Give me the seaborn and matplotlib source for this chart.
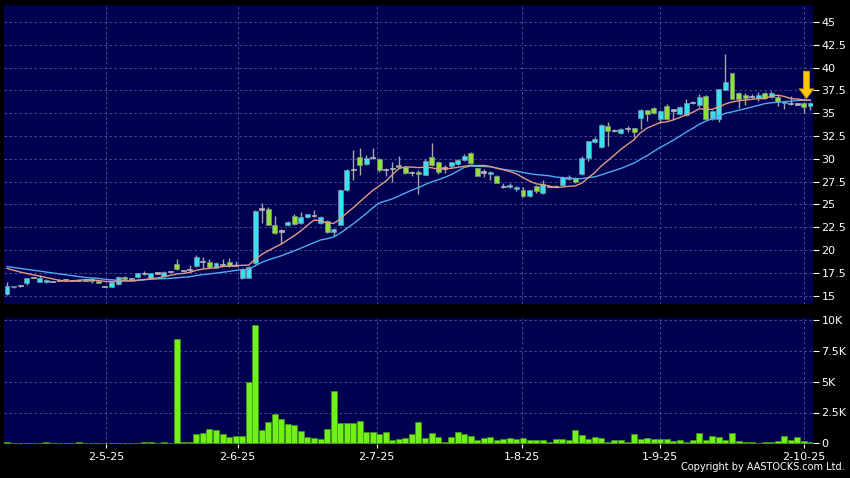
import numpy as np
import pandas as pd
import matplotlib
matplotlib.use("Agg")
import matplotlib.pyplot as plt
import seaborn as sns

# daily candles (price) and volume in thousands
opens = [15.2, 15.95, 16.1, 16.45, 17.0, 16.5, 16.5, 16.55, 16.7, 16.75,
         16.7, 16.65, 16.7, 16.8, 16.6, 16.0, 16.0, 16.3, 17.1, 16.9,
         17.05, 17.4, 17.0, 17.5, 17.15, 17.7, 18.45, 17.8, 17.9, 18.25,
         18.75, 18.65, 18.05, 18.4, 18.65, 18.35, 17.0, 17.0, 18.6, 24.5,
         24.5, 22.8, 22.1, 22.7, 23.75, 22.95, 23.6, 23.8, 23.0, 23.2,
         21.95, 22.8, 26.55, 28.85, 30.25, 29.45, 30.15, 29.95, 28.8, 28.9,
         29.3, 29.1, 28.5, 28.6, 28.25, 30.2, 29.65, 29.0, 29.25, 29.45,
         29.9, 30.65, 28.95, 28.55, 28.3, 28.1, 27.0, 26.9, 26.65, 26.6,
         25.9, 27.0, 26.3, 27.0, 27.0, 27.1, 28.05, 27.9, 28.3, 30.05,
         31.8, 31.3, 33.65, 33.1, 32.8, 33.3, 33.35, 34.45, 35.3, 35.55,
         34.35, 35.75, 35.35, 34.9, 34.8, 36.15, 35.85, 36.9, 34.4, 34.4,
         37.55, 39.4, 37.25, 37.0, 36.8, 36.7, 37.2, 36.8, 36.75, 36.1,
         36.1, 36.0, 36.1, 35.8]
highs = [16.5, 16.1, 16.2, 17.0, 17.1, 17.3, 16.8, 16.6, 16.8, 16.8,
         16.75, 16.7, 16.75, 16.9, 16.7, 16.05, 16.6, 17.2, 17.15, 17.0,
         17.5, 17.75, 17.55, 17.6, 17.7, 17.75, 19.0, 17.85, 18.4, 19.5,
         19.2, 19.0, 18.7, 19.0, 19.1, 18.8, 18.0, 18.3, 24.4, 25.2,
         24.7, 23.7, 22.3, 23.2, 24.0, 24.2, 24.0, 24.4, 23.7, 23.3,
         22.4, 26.7, 28.9, 31.0, 31.15, 30.4, 31.2, 30.1, 29.0, 29.7,
         30.3, 29.2, 28.7, 28.8, 30.0, 31.7, 29.8, 29.3, 29.7, 30.0,
         30.5, 30.8, 29.0, 28.9, 28.7, 28.2, 27.3, 27.4, 27.0, 26.9,
         26.6, 27.1, 27.7, 27.1, 27.1, 28.1, 28.2, 28.0, 30.3, 32.0,
         32.4, 33.8, 34.0, 33.3, 33.4, 33.6, 33.4, 35.5, 35.4, 35.7,
         35.3, 36.0, 35.5, 35.8, 36.6, 36.3, 37.1, 37.0, 35.3, 37.7,
         41.5, 39.45, 37.3, 37.2, 37.1, 37.3, 37.3, 37.4, 37.0, 36.3,
         36.9, 36.1, 36.2, 36.2]
lows = [15.1, 15.9, 16.0, 16.2, 16.9, 16.5, 16.4, 16.5, 16.6, 16.7,
        16.65, 16.6, 16.65, 16.4, 16.35, 15.95, 15.95, 16.2, 16.75, 16.85,
        17.0, 17.3, 16.9, 17.4, 17.1, 17.6, 17.85, 17.75, 17.6, 18.2,
        18.0, 18.0, 18.0, 18.3, 18.2, 18.3, 16.8, 16.95, 18.5, 23.0,
        22.7, 21.8, 20.7, 22.6, 22.8, 22.9, 23.5, 23.6, 22.9, 21.9,
        21.6, 22.7, 26.5, 27.7, 28.2, 29.3, 30.0, 28.6, 28.1, 27.5,
        29.0, 28.3, 28.1, 26.1, 28.2, 29.2, 28.3, 28.5, 29.0, 29.3,
        29.8, 29.4, 28.1, 28.0, 27.7, 27.3, 26.8, 26.8, 26.5, 25.8,
        25.8, 26.3, 26.2, 26.9, 26.9, 27.0, 27.7, 27.4, 28.2, 29.8,
        31.7, 31.2, 31.4, 32.9, 32.7, 32.9, 32.4, 33.3, 34.1, 34.9,
        33.9, 34.3, 34.2, 34.8, 34.7, 36.0, 35.7, 34.2, 34.3, 34.0,
        37.5, 36.5, 35.6, 35.9, 36.7, 36.3, 36.6, 36.7, 35.8, 35.5,
        35.9, 35.9, 35.0, 35.4]
closes = [16.1, 16.05, 16.1, 16.9, 17.0, 17.0, 16.7, 16.55, 16.7, 16.75,
          16.7, 16.65, 16.7, 16.6, 16.4, 16.0, 16.5, 17.1, 16.8, 16.9,
          17.45, 17.4, 17.5, 17.5, 17.6, 17.7, 17.9, 17.8, 17.9, 19.2,
          18.75, 18.1, 18.6, 18.4, 18.25, 18.35, 17.95, 18.1, 24.3, 24.5,
          22.8, 21.9, 22.1, 23.1, 22.85, 23.6, 23.95, 23.8, 23.6, 22.0,
          22.3, 26.6, 28.8, 28.85, 29.3, 30.05, 30.15, 28.8, 28.8, 28.9,
          29.15, 28.45, 28.5, 28.3, 29.8, 29.35, 28.6, 29.0, 29.6, 29.9,
          30.35, 29.5, 28.15, 28.55, 28.6, 27.4, 27.0, 27.1, 26.95, 25.9,
          26.55, 26.45, 27.2, 27.0, 27.0, 28.0, 27.75, 27.5, 30.05, 31.9,
          32.15, 33.7, 33.1, 33.1, 33.25, 33.3, 32.9, 35.3, 34.95, 35.0,
          35.2, 34.35, 35.35, 35.7, 36.15, 36.15, 36.8, 34.35, 35.25, 37.6,
          38.4, 36.6, 36.55, 36.65, 36.8, 37.0, 36.7, 37.2, 36.2, 36.25,
          36.1, 36.0, 35.65, 36.1]
volumes = [0.08, 0.05, 0.04, 0.04, 0.06, 0.04, 0.1, 0.05, 0.04, 0.03,
           0.04, 0.12, 0.03, 0.03, 0.04, 0.05, 0.03, 0.04, 0.03, 0.04,
           0.07, 0.08, 0.08, 0.07, 0.1, 0.06, 8.46, 0.08, 0.1, 0.73,
           0.81, 1.14, 1.08, 0.79, 0.49, 0.57, 0.57, 5.0, 9.6, 1.06,
           1.71, 2.36, 1.95, 1.54, 1.46, 1.0, 0.49, 0.43, 0.33, 1.17,
           4.23, 1.65, 1.63, 1.68, 1.84, 0.92, 0.92, 0.79, 0.92, 0.3,
           0.33, 0.41, 0.79, 1.71, 0.46, 0.84, 0.49, 0.08, 0.49, 0.92,
           0.79, 0.57, 0.3, 0.41, 0.49, 0.3, 0.35, 0.41, 0.35, 0.41,
           0.27, 0.24, 0.24, 0.11, 0.35, 0.38, 0.27, 1.11, 0.7, 0.35,
           0.51, 0.43, 0.08, 0.24, 0.24, 0.08, 0.79, 0.35, 0.43, 0.35,
           0.38, 0.35, 0.19, 0.3, 0.08, 0.24, 0.87, 0.24, 0.57, 0.49,
           0.24, 0.84, 0.19, 0.14, 0.08, 0.03, 0.14, 0.08, 0.19, 0.57,
           0.24, 0.49, 0.22, 0.15]

# moving averages at the left edge (their windows start before the chart)
ma10_head = [18.0, 17.8, 17.6, 17.45, 17.3, 17.15, 17.0, 16.85, 16.7]
ma20_head = [18.2, 18.1, 18.0, 17.9, 17.8, 17.7, 17.6, 17.5, 17.4, 17.3,
             17.2, 17.1, 17.0, 16.95, 16.9, 16.8, 16.75, 16.7, 16.65]

date_ticks = [15.2, 35.3, 56.6, 78.8, 99.9, 122.0]
date_labels = ["2-5-25", "2-6-25", "2-7-25", "1-8-25", "1-9-25", "2-10-25"]
price_ticks = [15, 17.5, 20, 22.5, 25, 27.5, 30, 32.5, 35, 37.5, 40, 42.5, 45]
vol_ticks = [0, 2.5, 5, 7.5, 10]
vol_labels = ["0", "2.5K", "5K", "7.5K", "10K"]

BG = "#000050"
GRID = "#555590"
UP = "#38e0f4"
DOWN = "#8ee236"
DOJI = "#b4b4bc"
WICK = "#a4a4ac"


def build_frame():
    df = pd.DataFrame({"open": opens, "high": highs, "low": lows,
                       "close": closes, "volume": volumes})
    df["day"] = np.arange(len(df))
    ma10 = df["close"].rolling(10).mean()
    ma10.iloc[:len(ma10_head)] = ma10_head
    ma20 = df["close"].rolling(20).mean()
    ma20.iloc[:len(ma20_head)] = ma20_head
    df["ma10"] = ma10
    df["ma20"] = ma20
    return df


def style_axis(ax):
    ax.set_facecolor(BG)
    for s in ax.spines.values():
        s.set_visible(False)
    ax.grid(True, color=GRID, linestyle=(0, (3, 3)), linewidth=0.6)
    ax.set_axisbelow(True)
    ax.yaxis.tick_right()
    ax.tick_params(axis="y", colors="white", labelcolor="white", length=4,
                   width=0.8, pad=2, labelsize=8)
    ax.set_xlim(-0.46, 123.4)
    ax.set_xticks(date_ticks)
    ax.set_xlabel("")
    ax.set_ylabel("")


def plot_prices(ax, df):
    diff = df["close"] - df["open"]
    flat = diff.abs() < 0.02
    colors = np.where(diff > 0, UP, DOWN)
    colors = np.where(flat, DOJI, colors)
    heights = np.where(flat, 0.13, diff)
    bottoms = np.where(flat, df["open"] - 0.065, df["open"])
    edges = np.where(flat, DOJI, "#7f8c99")

    ax.vlines(df["day"], df["low"], df["high"], color=WICK, linewidth=1, zorder=2)
    ax.bar(df["day"], heights, bottom=bottoms, width=0.76, color=colors,
           edgecolor=edges, linewidth=0.5, zorder=3)
    sns.lineplot(x=df["day"], y=df["ma20"], ax=ax, color="#4faaf0", linewidth=1.0, zorder=4)
    sns.lineplot(x=df["day"], y=df["ma10"], ax=ax, color="#e59a80", linewidth=1.0, zorder=4)

    ax.annotate("", xy=(122.4, 36.6), xytext=(122.4, 39.6),
                arrowprops=dict(facecolor="#f9c80e", edgecolor="#c98f00", width=4.3,
                                headwidth=10.5, headlength=7, shrink=0, linewidth=0.6),
                zorder=6)

    style_axis(ax)
    ax.set_ylim(14.1, 46.85)
    ax.set_yticks(price_ticks)
    ax.set_yticklabels([f"{t:g}" for t in price_ticks])
    ax.tick_params(axis="x", length=0, labelbottom=False)


def plot_volume(ax, df):
    sns.barplot(x=df["day"], y=df["volume"], ax=ax, native_scale=True, width=0.92,
                color="#72f01a", saturation=1, errorbar=None,
                edgecolor="#3f9a10", linewidth=0.5, zorder=3)
    style_axis(ax)
    ax.set_ylim(-0.05, 10.15)
    ax.set_yticks(vol_ticks)
    ax.set_yticklabels(vol_labels)
    ax.set_xticklabels(date_labels)
    ax.tick_params(axis="x", colors="white", labelcolor="white", length=3,
                   width=0.8, pad=3, labelsize=8)


def main():
    df = build_frame()
    fig = plt.figure(figsize=(8.5, 4.78), dpi=100, facecolor="black")
    ax_price = fig.add_axes([4 / 850, 1 - 304 / 478, 809 / 850, 299 / 478])
    ax_vol = fig.add_axes([4 / 850, 1 - 444 / 478, 809 / 850, 126 / 478])
    plot_prices(ax_price, df)
    plot_volume(ax_vol, df)
    fig.text(0.994, 0.012, "Copyright by AASTOCKS.com Ltd.", ha="right", va="bottom",
             color="white", fontsize=7)
    fig.savefig("out.png", dpi=100, facecolor="black")
    plt.close(fig)


if __name__ == "__main__":
    main()
